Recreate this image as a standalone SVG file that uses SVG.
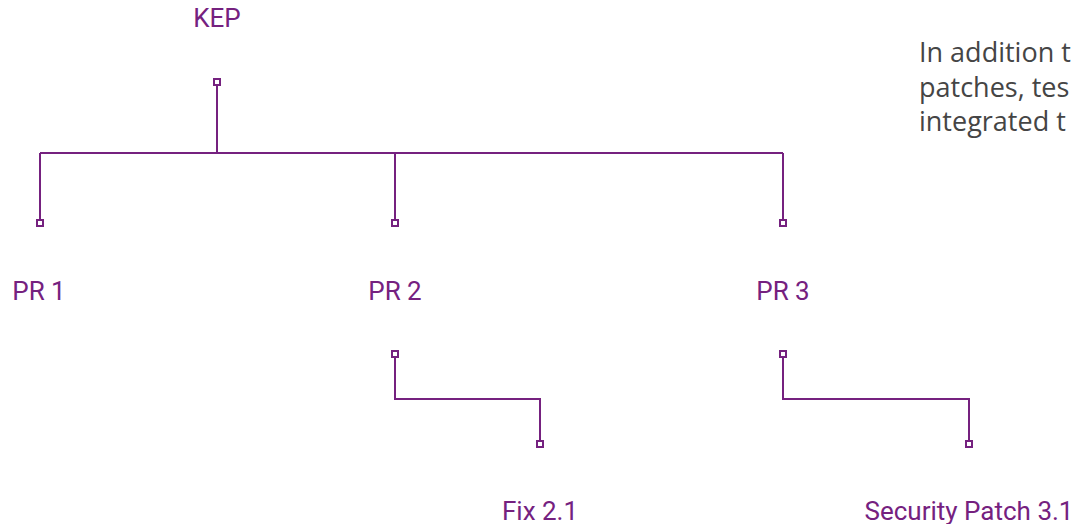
<svg xmlns="http://www.w3.org/2000/svg" width="1077" height="524" viewBox="0 0 1077 524">
<defs>
<style>
.lbl{font-family:Roboto,"Liberation Sans",sans-serif;font-size:26px;fill:#75217f;text-anchor:middle}
.wire{fill:none;stroke:#75217f;stroke-width:2}
.port{fill:#fff;stroke:#75217f;stroke-width:2}
.note{font-family:"Open Sans","Liberation Sans",sans-serif;font-size:27px;fill:#454545}
</style>
</defs>
<rect width="1077" height="524" fill="#fff"/>
<g id="connectors">
<path class="wire" d="M217 86V153M40 153H783M40 153V220M395 153V220M783 153V220"/>
<path class="wire" d="M395 358V399H540V440"/>
<path class="wire" d="M783 358V399H969V440"/>
<rect class="port" x="214" y="79" width="6" height="6"/>
<rect class="port" x="37" y="220" width="6" height="6"/>
<rect class="port" x="392" y="220" width="6" height="6"/>
<rect class="port" x="780" y="220" width="6" height="6"/>
<rect class="port" x="392" y="351" width="6" height="6"/>
<rect class="port" x="537" y="441" width="6" height="6"/>
<rect class="port" x="780" y="351" width="6" height="6"/>
<rect class="port" x="966" y="441" width="6" height="6"/>
</g>
<g id="kep"><text class="lbl" x="217" y="27">KEP</text></g>
<g id="pr1"><text class="lbl" x="39" y="300">PR 1</text></g>
<g id="pr2"><text class="lbl" x="395" y="300">PR 2</text></g>
<g id="pr3"><text class="lbl" x="783" y="300">PR 3</text></g>
<g id="fix21"><text class="lbl" x="540" y="520">Fix 2.1</text></g>
<g id="sec31"><text class="lbl" x="969" y="520">Security Patch 3.1</text></g>
<g id="note">
<text class="note" x="919" y="62">In addition t</text>
<text class="note" x="919" y="97">patches, tes</text>
<text class="note" x="919" y="131">integrated t</text>
</g>
</svg>
